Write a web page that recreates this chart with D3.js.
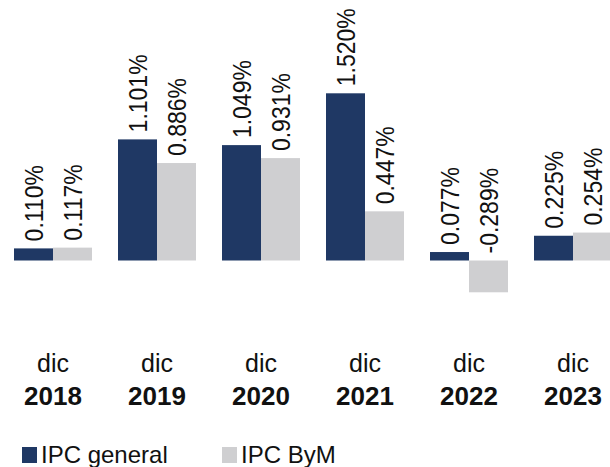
<!DOCTYPE html>
<html>
<head>
<meta charset="utf-8">
<script src="https://cdn.jsdelivr.net/npm/d3@7"></script>
<style>
  body { margin: 0; background: #fff; }
  svg { display: block; font-family: "Liberation Sans", Arial, sans-serif; }
</style>
</head>
<body>
<svg width="610" height="467"></svg>
<script>
var months = ["dic", "dic", "dic", "dic", "dic", "dic"];
var years = ["2018", "2019", "2020", "2021", "2022", "2023"];
var ipcGeneral = [0.110, 1.101, 1.049, 1.520, 0.077, 0.225];
var ipcByM = [0.117, 0.886, 0.931, 0.447, -0.289, 0.254];
var seriesNames = ["IPC general", "IPC ByM"];
var colors = ["#1f3864", "#cfcfd1"];

var svg = d3.select("svg");

var x = d3.scaleBand()
    .domain(years)
    .range([1, 625])
    .paddingInner(0.25)
    .paddingOuter(0.125);

var xSub = d3.scaleBand()
    .domain([0, 1])
    .range([0, x.bandwidth()]);

var y = d3.scaleLinear()
    .domain([-0.5, 1.7])
    .range([315.5, 73.5]);

var rows = [];
years.forEach(function(yr, i) {
    rows.push({ year: yr, s: 0, v: ipcGeneral[i] });
    rows.push({ year: yr, s: 1, v: ipcByM[i] });
});

var bars = svg.append("g").attr("class", "bars");
bars.selectAll("rect")
    .data(rows)
    .enter().append("rect")
    .attr("x", function(d) { return x(d.year) + xSub(d.s); })
    .attr("width", xSub.bandwidth())
    .attr("y", function(d) { return y(Math.max(d.v, 0)); })
    .attr("height", function(d) { return Math.abs(y(d.v) - y(0)); })
    .style("fill", function(d) { return colors[d.s]; });

// value labels, rotated (a bit condensed along the text, like the original)
svg.append("g").attr("class", "labels")
    .selectAll("text")
    .data(rows)
    .enter().append("text")
    .attr("transform", function(d) {
        var cx = x(d.year) + xSub(d.s) + xSub.bandwidth() / 2;
        var ty = y(Math.max(d.v, 0)) - 7;
        return "translate(" + cx + "," + ty + ") rotate(-90) scale(0.92,1)";
    })
    .attr("dy", "0.36em")
    .style("font-size", "25px")
    .style("fill", "#111")
    .text(function(d) { return d.v.toFixed(3) + "%"; });

// category labels
var cat = svg.append("g").attr("class", "cats")
    .selectAll("g")
    .data(years)
    .enter().append("g")
    .attr("transform", function(d) { return "translate(" + (x(d) + x.bandwidth() / 2) + ",0)"; });

cat.append("text")
    .attr("y", 372)
    .attr("text-anchor", "middle")
    .style("font-size", "25px")
    .style("fill", "#111")
    .text(function(d, i) { return months[i]; });

cat.append("text")
    .attr("y", 405)
    .attr("text-anchor", "middle")
    .style("font-size", "26px")
    .style("font-weight", "bold")
    .style("fill", "#111")
    .text(function(d) { return d; });

// legend
var legend = svg.append("g").attr("class", "legend")
    .selectAll("g")
    .data(seriesNames)
    .enter().append("g")
    .attr("transform", function(d, i) { return "translate(" + [22 + i * 200, 0] + ")"; });

legend.append("rect")
    .attr("x", 0)
    .attr("y", 447)
    .attr("width", 15)
    .attr("height", 16)
    .style("fill", function(d, i) { return colors[i]; });

legend.append("text")
    .attr("x", 19)
    .attr("y", 463)
    .style("font-size", "24px")
    .style("fill", "#111")
    .text(function(d) { return d; });
</script>
</body>
</html>
